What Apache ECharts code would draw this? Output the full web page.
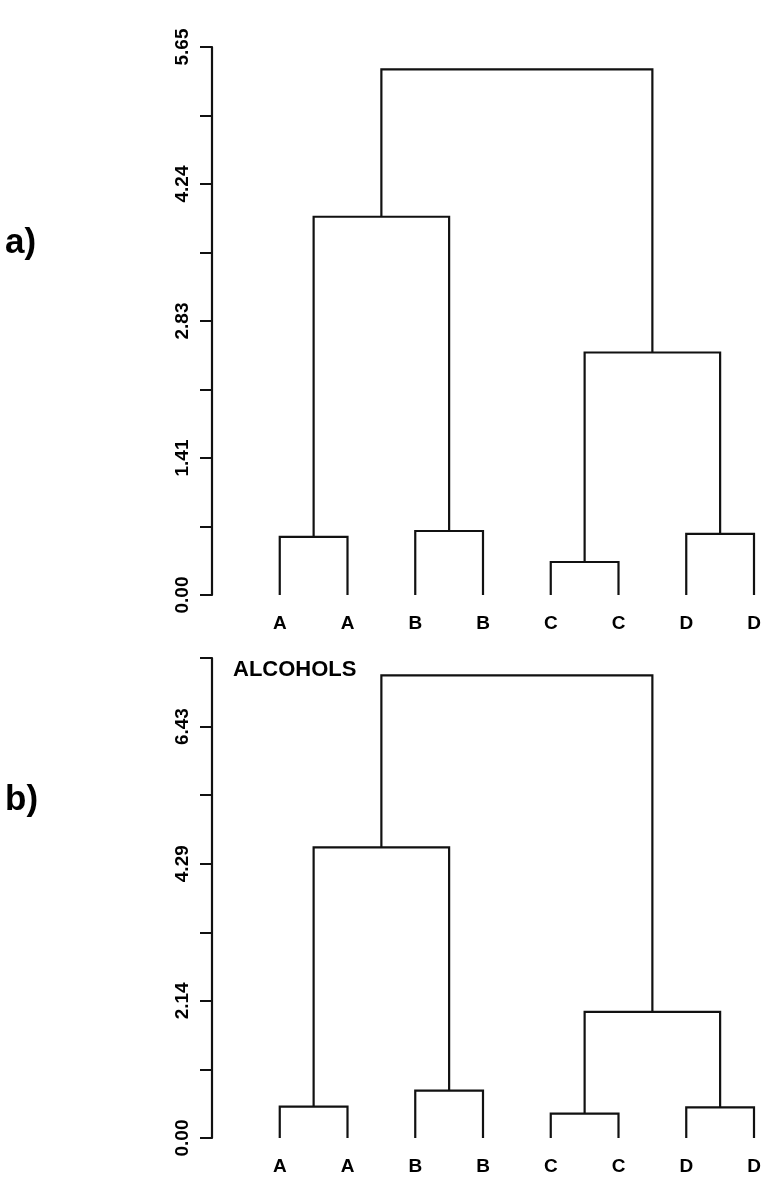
<!DOCTYPE html>
<html>
<head>
<meta charset="utf-8">
<script src="https://cdn.jsdelivr.net/npm/echarts@6/dist/echarts.min.js"></script>
<style>
html,body{margin:0;padding:0;background:#fff;}
#chart{width:766px;height:1178px;}
</style>
</head>
<body>
<div id="chart"></div>
<script>
// ---- data ----
const leafLabels = ['A', 'A', 'B', 'B', 'C', 'C', 'D', 'D'];
// linkage rows: [left node, right node, merge height]; nodes 0-7 are leaves, 8+ are merges in order
const linkageA = [[0, 1, 0.60], [2, 3, 0.66], [4, 5, 0.34], [6, 7, 0.63], [8, 9, 3.90], [10, 11, 2.50], [12, 13, 5.42]];
const linkageB = [[0, 1, 0.49], [2, 3, 0.74], [4, 5, 0.38], [6, 7, 0.48], [8, 9, 4.54], [10, 11, 1.97], [12, 13, 7.23]];
const tickLabelsA = ['0.00', '1.41', '2.83', '4.24', '5.65'];
const tickLabelsB = ['0.00', '2.14', '4.29', '6.43'];
const axisMaxA = 5.65, axisMaxB = 7.5;
const tickCountA = 8, tickCountB = 7;
const panelTitleB = 'ALCOHOLS';

// ---- build links ----
function buildLinks(linkage) {
  const xs = leafLabels.map((_, i) => i + 1);
  const hs = leafLabels.map(() => 0);
  const links = [];
  linkage.forEach(([l, r, h]) => {
    links.push([xs[l], hs[l], xs[r], hs[r], h]);
    xs.push((xs[l] + xs[r]) / 2);
    hs.push(h);
  });
  return links;
}
const linksA = buildLinks(linkageA);
const linksB = buildLinks(linkageB);

function renderLink(params, api) {
  const p1 = api.coord([api.value(0), api.value(1)]);
  const p2 = api.coord([api.value(0), api.value(4)]);
  const p3 = api.coord([api.value(2), api.value(4)]);
  const p4 = api.coord([api.value(2), api.value(3)]);
  return {
    type: 'polyline',
    shape: { points: [p1, p2, p3, p4] },
    style: { stroke: '#111', lineWidth: 2.2, fill: null, lineJoin: 'miter' }
  };
}

const FONT = 'Liberation Sans';
function xAxisCfg(gi) {
  return {
    gridIndex: gi, type: 'value', min: 0, max: 8, interval: 1,
    axisLine: { show: false }, axisTick: { show: false }, splitLine: { show: false },
    axisLabel: {
      showMinLabel: true, showMaxLabel: true, margin: 19,
      fontFamily: FONT, fontWeight: 'bold', fontSize: 19, color: '#000',
      formatter: v => (v >= 1 && v <= leafLabels.length) ? leafLabels[Math.round(v) - 1] : ''
    }
  };
}
function yAxisCfg(gi, max, count, labels) {
  const interval = max / count;
  return {
    gridIndex: gi, type: 'value', min: 0, max: max, interval: interval,
    axisLine: { show: true, lineStyle: { color: '#111', width: 2.2 } },
    axisTick: { show: true, length: 12, lineStyle: { color: '#111', width: 2 } },
    splitLine: { show: false },
    axisLabel: {
      rotate: 90, margin: 20, showMinLabel: true, showMaxLabel: true,
      fontFamily: FONT, fontWeight: 'bold', fontSize: 19, color: '#000',
      formatter: v => {
        const idx = Math.round(v / interval);
        if (Math.abs(v - idx * interval) > 1e-6) return '';
        return idx % 2 === 0 && labels[idx / 2] !== undefined ? labels[idx / 2] : '';
      }
    }
  };
}

const chart = echarts.init(document.getElementById('chart'), null, { renderer: 'canvas' });
chart.setOption({
  backgroundColor: '#fff',
  animation: false,
  grid: [
    { left: 212, right: 12, top: 47, height: 548 },
    { left: 212, right: 12, top: 658, height: 480 }
  ],
  xAxis: [xAxisCfg(0), xAxisCfg(1)],
  yAxis: [yAxisCfg(0, axisMaxA, tickCountA, tickLabelsA), yAxisCfg(1, axisMaxB, tickCountB, tickLabelsB)],
  series: [
    { type: 'custom', xAxisIndex: 0, yAxisIndex: 0, data: linksA, renderItem: renderLink,
      encode: { x: [0, 2], y: [1, 3, 4] }, clip: false, silent: true },
    { type: 'custom', xAxisIndex: 1, yAxisIndex: 1, data: linksB, renderItem: renderLink,
      encode: { x: [0, 2], y: [1, 3, 4] }, clip: false, silent: true }
  ],
  graphic: [
    { type: 'text', left: 5, top: 226, style: { text: 'a)', fontFamily: FONT, fontWeight: 'bold', fontSize: 35, fill: '#000' } },
    { type: 'text', left: 5, top: 783, style: { text: 'b)', fontFamily: FONT, fontWeight: 'bold', fontSize: 35, fill: '#000' } },
    { type: 'text', left: 233, top: 659, style: { text: panelTitleB, fontFamily: FONT, fontWeight: 'bold', fontSize: 22, fill: '#000' } }
  ]
});
</script>
</body>
</html>
